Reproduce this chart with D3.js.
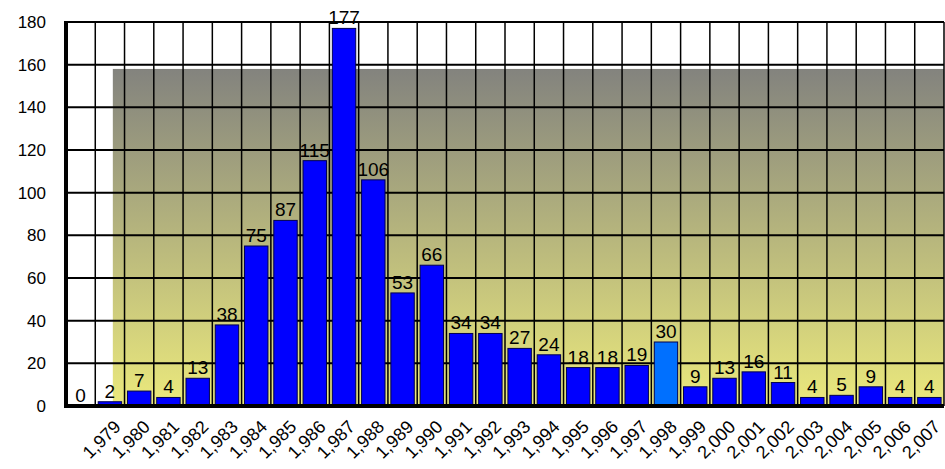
<!DOCTYPE html>
<html>
<head>
<meta charset="utf-8">
<script src="https://cdn.jsdelivr.net/npm/d3@7"></script>
<style>
  html, body { margin: 0; padding: 0; background: #fff; }
  svg { display: block; font-family: Arial, "Liberation Sans", sans-serif; }
</style>
</head>
<body>
<svg id="chart" width="945" height="469"></svg>
<script>
// Yearly counts; the leading empty slot carries the zero column.
const years = [null, 1979, 1980, 1981, 1982, 1983, 1984, 1985, 1986, 1987, 1988,
  1989, 1990, 1991, 1992, 1993, 1994, 1995, 1996, 1997, 1998,
  1999, 2000, 2001, 2002, 2003, 2004, 2005, 2006, 2007];
const counts = [0, 2, 7, 4, 13, 38, 75, 87, 115, 177, 106,
  53, 66, 34, 34, 27, 24, 18, 18, 19, 30,
  9, 13, 16, 11, 4, 5, 9, 4, 4];
const highlightYear = 1998;
const yTicks = [0, 20, 40, 60, 80, 100, 120, 140, 160, 180];

const svg = d3.select("#chart");
const plotL = 66, plotR = 944, plotT = 22, plotB = 406;

const keys = years.map((v, i) => String(i));
const x = d3.scaleBand().domain(keys).range([plotL, plotR])
  .paddingInner(0.2).paddingOuter(0.1);
const y = d3.scaleLinear().domain([0, 180]).range([plotB, plotT]);
const step = x.step();
const fmt = d3.format(",");

// Grey-to-yellow backdrop panel
const defs = svg.append("defs");
const grad = defs.append("linearGradient").attr("id", "panel")
  .attr("x1", 0).attr("y1", 0).attr("x2", 0).attr("y2", 1);
grad.append("stop").attr("offset", "0%").attr("stop-color", "#83837e");
grad.append("stop").attr("offset", "100%").attr("stop-color", "#ebe97c");
const panelX = plotL + step * 1.6;
svg.append("rect")
  .attr("x", panelX).attr("y", y(158))
  .attr("width", plotR - panelX).attr("height", plotB - y(158))
  .attr("fill", "url(#panel)");

// Value labels (sit under the grid lines)
svg.append("g").selectAll("text").data(counts).join("text")
  .attr("x", (d, i) => x(keys[i]) + x.bandwidth() / 2)
  .attr("y", d => y(d) - 4)
  .attr("text-anchor", "middle")
  .attr("font-size", 19)
  .attr("fill", "#000")
  .text(d => d);

// Grid
const grid = svg.append("g");
grid.selectAll("line.h").data(yTicks).join("line").attr("class", "h")
  .attr("x1", plotL).attr("x2", plotR)
  .attr("y1", d => y(d)).attr("y2", d => y(d))
  .attr("stroke", "#000").attr("stroke-width", 2);
grid.selectAll("line.v").data(d3.range(1, keys.length + 1)).join("line").attr("class", "v")
  .attr("x1", i => plotL + i * step).attr("x2", i => plotL + i * step)
  .attr("y1", plotT).attr("y2", plotB)
  .attr("stroke", "#000").attr("stroke-width", 1.5);

// Bars
svg.append("g").selectAll("rect").data(counts).join("rect")
  .attr("x", (d, i) => x(keys[i]))
  .attr("y", d => y(d))
  .attr("width", x.bandwidth())
  .attr("height", d => plotB - y(d))
  .attr("fill", (d, i) => years[i] === highlightYear ? "#0070ff" : "#0000ff")
  .attr("stroke", "#000050").attr("stroke-width", 1);

// Axis lines
svg.append("line").attr("x1", plotL).attr("x2", plotL).attr("y1", plotT - 1).attr("y2", plotB + 2)
  .attr("stroke", "#000").attr("stroke-width", 4);
svg.append("line").attr("x1", plotL - 2).attr("x2", plotR).attr("y1", plotB).attr("y2", plotB)
  .attr("stroke", "#000").attr("stroke-width", 4);

// Y tick labels
svg.append("g").selectAll("text").data(yTicks).join("text")
  .attr("x", 46).attr("y", d => y(d)).attr("dy", "0.36em")
  .attr("text-anchor", "end").attr("font-size", 17).attr("fill", "#000")
  .text(d => d);

// Rotated year labels
svg.append("g").selectAll("text").data(years.filter(v => v !== null)).join("text")
  .attr("transform", v => {
    const i = years.indexOf(v);
    const cx = x(keys[i]) + x.bandwidth() / 2 + 12;
    return `translate(${cx},${plotB + 22}) rotate(-45)`;
  })
  .attr("text-anchor", "end").attr("font-size", 18).attr("fill", "#000")
  .text(v => fmt(v));
</script>
</body>
</html>
